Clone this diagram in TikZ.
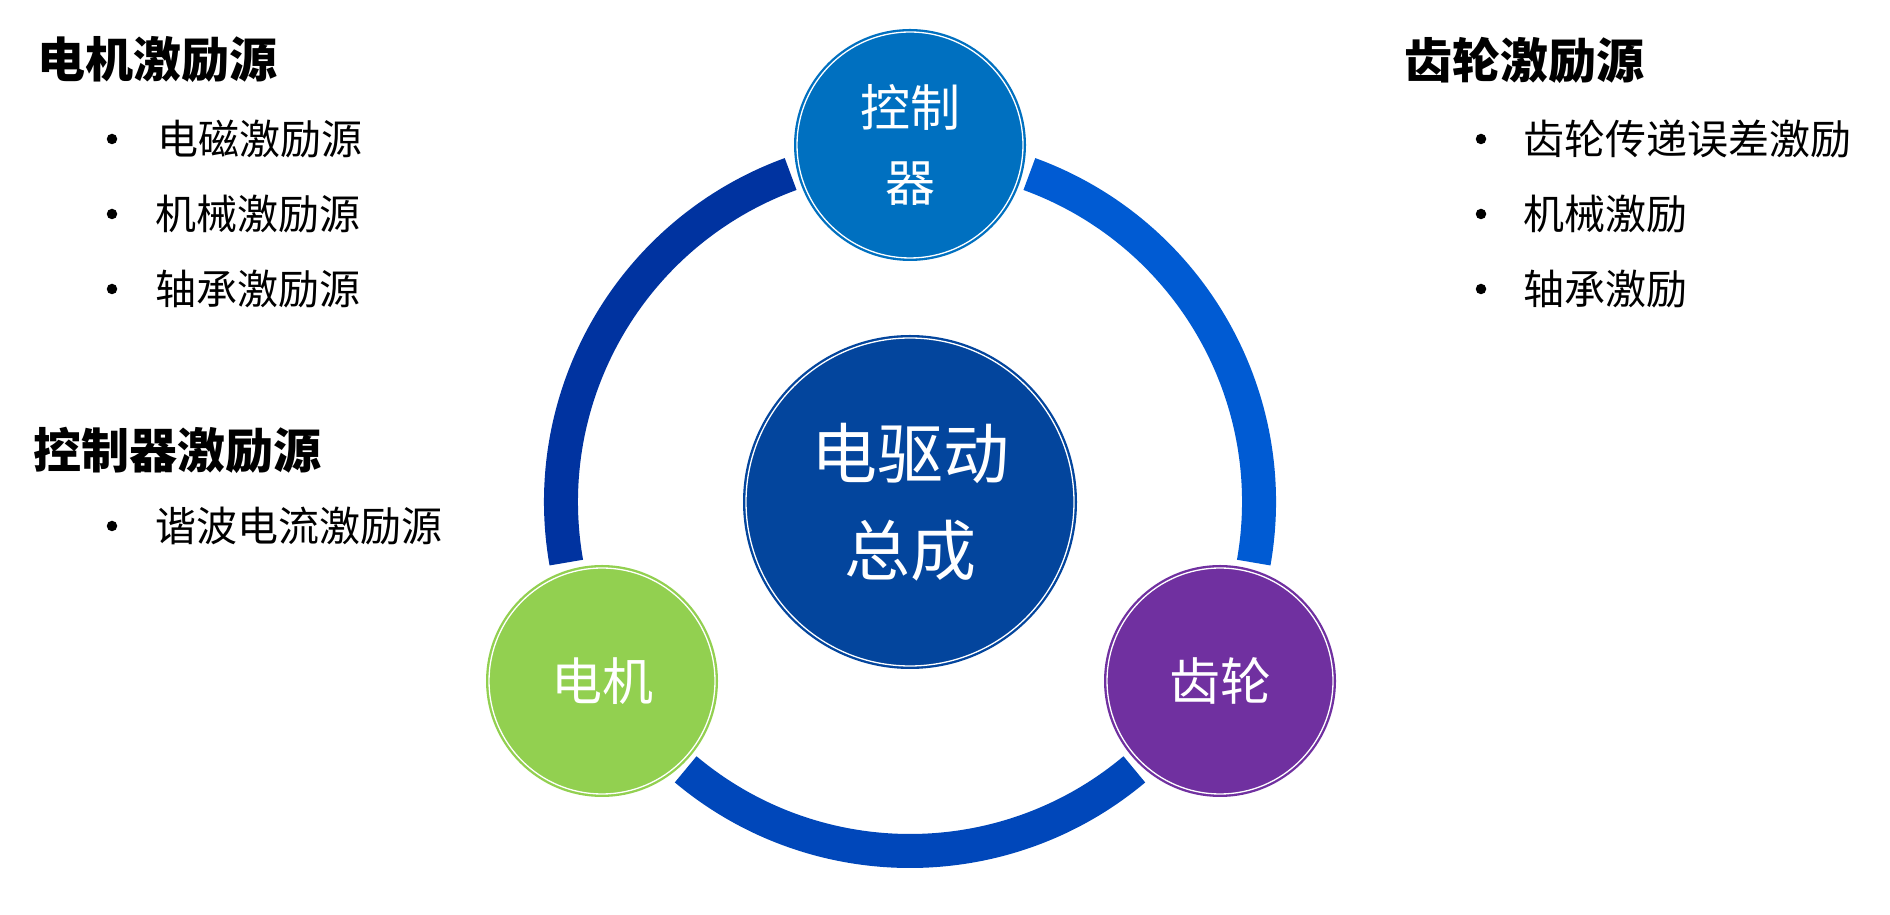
\documentclass[tikz,border=0pt]{standalone}
\usepackage{fontspec}
\newfontfamily\cjk{Noto Sans CJK SC}
\definecolor{arcL}{RGB}{0,51,160}
\definecolor{arcR}{RGB}{0,91,211}
\definecolor{arcB}{RGB}{0,71,186}
\definecolor{ctrlC}{RGB}{0,112,192}
\definecolor{hubC}{RGB}{3,69,157}
\definecolor{motorC}{RGB}{146,208,80}
\definecolor{gearC}{RGB}{112,48,160}
\begin{document}
\begin{tikzpicture}[x=1pt,y=1pt,
  ringarc/.style={line width=34pt},
  ball/.style={circle, inner sep=0pt, minimum size=#1, text=white, align=center},
  innerline/.style={draw=white, line width=1.3pt},
  head/.style={anchor=west, inner sep=0pt, font=\cjk\bfseries\fontsize{48}{48}\selectfont},
  item/.style={anchor=west, inner sep=0pt, font=\cjk\fontsize{41}{41}\selectfont},
  dot/.style={circle, fill=black, inner sep=0pt, minimum size=10.5pt}
]
\useasboundingbox[fill=white] (0,0) rectangle (1890,915);
\coordinate (O) at (910,413);

% ring arcs
\draw[ringarc, arcL] ([shift={(110:349)}]O) arc (110:190:349);
\draw[ringarc, arcB] ([shift={(230:349)}]O) arc (230:310:349);
\draw[ringarc, arcR] ([shift={(-10:349)}]O) arc (-10:70:349);

% circles
\node[ball=334pt, fill=hubC, font=\cjk\fontsize{66}{97}\selectfont] (hub) at (O) {电驱动\\总成};
\draw[innerline] (hub.center) circle (164);

\node[ball=232pt, fill=ctrlC, font=\cjk\fontsize{50}{75}\selectfont] (ctrl) at (910,770) {控制\\器};
\draw[innerline] (ctrl.center) circle (113);

\node[ball=232pt, fill=motorC, font=\cjk\fontsize{51}{51}\selectfont] (motor) at (602,234) {电机};
\draw[innerline] (motor.center) circle (113);

\node[ball=232pt, fill=gearC, font=\cjk\fontsize{51}{51}\selectfont] (gear) at (1220,234) {齿轮};
\draw[innerline] (gear.center) circle (113);

% left texts
\node[head] (h1) at (37,855) {电机激励源};
\node[dot] (b1) at (112,776) {};
\node[item] (t1) at (157,776) {电磁激励源};
\node[dot] (b2) at (112,701) {};
\node[item] (t2) at (155,701) {机械激励源};
\node[dot] (b3) at (112,626) {};
\node[item] (t3) at (155,626) {轴承激励源};

\node[head] (h2) at (33,465) {控制器激励源};
\node[dot] (b4) at (112,389) {};
\node[item] (t4) at (155,389) {谐波电流激励源};

% right texts
\node[head] (h3) at (1404,855) {齿轮激励源};
\node[dot] (b5) at (1481,776) {};
\node[item] (t5) at (1523,776) {齿轮传递误差激励};
\node[dot] (b6) at (1481,701) {};
\node[item] (t6) at (1523,701) {机械激励};
\node[dot] (b7) at (1481,626) {};
\node[item] (t7) at (1523,626) {轴承激励};
\end{tikzpicture}
\end{document}
